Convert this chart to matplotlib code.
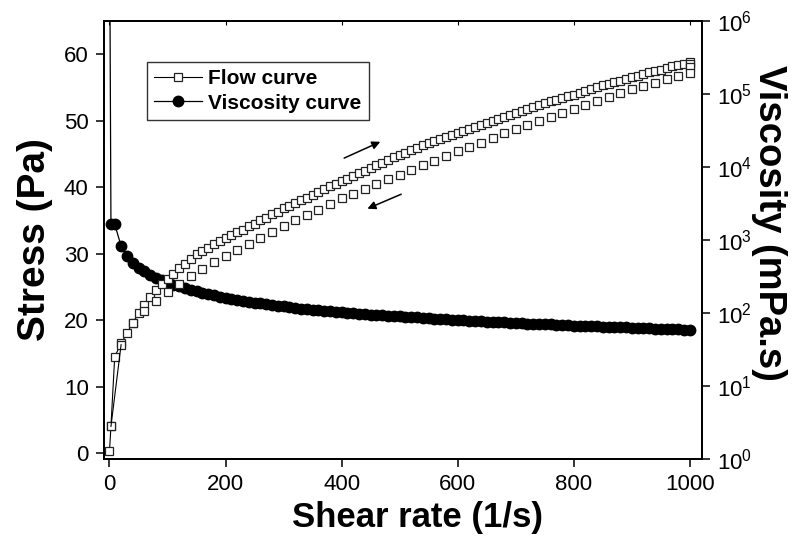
import matplotlib
matplotlib.use("Agg")
from matplotlib import pyplot as plt
from matplotlib.ticker import LogLocator, NullLocator

plt.rcParams['font.family'] = ['Liberation Sans', 'DejaVu Sans']
plt.rcParams['mathtext.default'] = 'regular'

# dữ liệu: nhánh tăng tốc độ cắt (flow curve, đi lên)
rate_up = [0, 2.5, 9, 20, 30, 40, 50, 60, 70, 80, 90, 100,
           110, 120, 130, 140, 150, 160, 170, 180, 190, 200,
           210, 220, 230, 240, 250, 260, 270, 280, 290, 300,
           310, 320, 330, 340, 350, 360, 370, 380, 390, 400,
           410, 420, 430, 440, 450, 460, 470, 480, 490, 500,
           510, 520, 530, 540, 550, 560, 570, 580, 590, 600,
           610, 620, 630, 640, 650, 660, 670, 680, 690, 700,
           710, 720, 730, 740, 750, 760, 770, 780, 790, 800,
           810, 820, 830, 840, 850, 860, 870, 880, 890, 900,
           910, 920, 930, 940, 950, 960, 970, 980, 990, 1000]
stress_up = [0.3, 4.0, 14.5, 16.5, 18.0, 19.6, 21.0, 22.3, 23.5, 24.5, 25.4, 26.2,
             27.0, 27.8, 28.5, 29.2, 29.9, 30.4, 30.9, 31.4, 31.9, 32.3,
             32.8, 33.2, 33.6, 34.1, 34.5, 35.0, 35.4, 35.9, 36.3, 36.8,
             37.2, 37.6, 38.0, 38.4, 38.8, 39.3, 39.7, 40.1, 40.5, 40.9,
             41.3, 41.7, 42.1, 42.5, 42.9, 43.3, 43.7, 44.1, 44.5, 44.9,
             45.2, 45.6, 45.9, 46.3, 46.6, 46.9, 47.2, 47.5, 47.8, 48.1,
             48.4, 48.7, 49.0, 49.3, 49.6, 49.9, 50.2, 50.5, 50.8, 51.1,
             51.4, 51.7, 52.0, 52.3, 52.6, 52.9, 53.1, 53.4, 53.7, 53.9,
             54.2, 54.5, 54.7, 55.0, 55.3, 55.5, 55.8, 56.0, 56.3, 56.5,
             56.8, 57.0, 57.3, 57.5, 57.7, 58.0, 58.2, 58.4, 58.6, 58.8]

# nhánh giảm tốc độ cắt (đi xuống)
rate_down = [1000, 1000, 1000, 980, 960, 940, 920, 900, 880, 860, 840, 820, 800,
             780, 760, 740, 720, 700, 680, 660, 640, 620, 600,
             580, 560, 540, 520, 500, 480, 460, 440, 420, 400,
             380, 360, 340, 320, 300, 280, 260, 240, 220, 200,
             180, 160, 140, 120, 100, 80, 60, 40, 20, 2.5]
stress_down = [58.5, 58.1, 57.2, 56.7, 56.2, 55.7, 55.2, 54.7, 54.1, 53.5, 52.9, 52.3, 51.7,
               51.1, 50.5, 49.9, 49.3, 48.7, 48.1, 47.4, 46.7, 46.1, 45.4,
               44.7, 44.0, 43.3, 42.6, 41.9, 41.2, 40.5, 39.7, 39.0, 38.3,
               37.5, 36.6, 35.8, 35.0, 34.2, 33.3, 32.4, 31.5, 30.6, 29.7,
               28.8, 27.7, 26.6, 25.5, 24.3, 22.9, 21.4, 19.6, 16.3, 4.0]

# độ nhớt (mPa.s), cùng các tốc độ cắt của nhánh đi lên
viscosity = [5e7, 1650, 1650, 825, 600, 490, 420, 372, 336, 306, 282, 262,
             245, 232, 219, 209, 199, 190, 182, 174, 168, 162,
             156, 151, 146, 142, 138, 135, 131, 128, 125, 123,
             120, 118, 115, 113, 111, 109, 107, 106, 104, 102,
             101, 99, 98, 97, 95, 94, 93, 92, 91, 90,
             89, 88, 87, 86, 85, 84, 83, 82, 81, 80,
             79.3, 78.5, 77.8, 77.0, 76.3, 75.6, 74.9, 74.3, 73.6, 73.0,
             72.4, 71.8, 71.2, 70.7, 70.1, 69.6, 69.0, 68.5, 68.0, 67.4,
             66.9, 66.5, 65.9, 65.5, 65.1, 64.5, 64.1, 63.6, 63.3, 62.8,
             62.4, 62.0, 61.6, 61.2, 60.7, 60.4, 60.0, 59.6, 59.2, 58.8]

fig = plt.figure(figsize=(7.98, 5.4), dpi=100)
ax = fig.add_axes([0.1303, 0.15, 0.7494, 0.8111])
ax2 = ax.twinx()
# đường ứng suất vẽ đè lên đường độ nhớt
ax.set_zorder(ax2.get_zorder() + 1)
ax.patch.set_visible(False)

visc_line, = ax2.plot(rate_up, viscosity, '-o', color='k', lw=0.9, ms=7.5,
                      label='Viscosity curve')
flow_line, = ax.plot(rate_up, stress_up, '-s', color='k', lw=0.8, ms=6,
                     mfc='white', mec='#222222', mew=0.9, label='Flow curve')
ax.plot(rate_down, stress_down, 's', ms=6, mfc='white', mec='#222222', mew=0.9)
ax.plot(rate_down[-2:], stress_down[-2:], '-', color='k', lw=0.8)

# mũi tên chỉ chiều tăng / giảm
ax.annotate('', xy=(471, 47.0), xytext=(400, 44.2),
            arrowprops=dict(arrowstyle='-|>', color='k', lw=1.1, mutation_scale=12))
ax.annotate('', xy=(440, 36.6), xytext=(507, 39.1),
            arrowprops=dict(arrowstyle='-|>', color='k', lw=1.1, mutation_scale=12))

ax.set_xlim(-9.5, 1021)
ax.set_ylim(-0.9, 65)
ax.set_xticks([0, 200, 400, 600, 800, 1000])
ax.set_yticks([0, 10, 20, 30, 40, 50, 60])
ax2.set_yscale('log')
ax2.set_ylim(1, 1e6)
ax2.yaxis.set_major_locator(LogLocator(base=10, numticks=10))
ax2.yaxis.set_minor_locator(NullLocator())

for a in (ax, ax2):
    a.tick_params(axis='both', direction='out', length=6, width=1.1,
                  labelsize=16, pad=5)
    for sp in a.spines.values():
        sp.set_linewidth(1.3)
    a.xaxis.get_offset_text().set_visible(False)
    a.yaxis.get_offset_text().set_visible(False)

# vạch nhỏ hướng vào trong ở trục trên
ax2.xaxis.set_visible(True)
ax2.tick_params(axis='x', bottom=False, top=True, direction='in', length=3,
                width=0.8, labelbottom=False, labeltop=False)
ax2.xaxis.label.set_visible(False)

ax.set_xlabel('Shear rate (1/s)', fontsize=25, fontweight='bold', labelpad=4)
ax.xaxis.label.set_x(0.525)
ax.set_ylabel('Stress (Pa)', fontsize=28, fontweight='bold', labelpad=8)
ax2.set_ylabel('Viscosity (mPa.s)', fontsize=27.5, fontweight='bold',
               rotation=270, labelpad=25)
ax2.yaxis.label.set_y(0.54)

leg = ax.legend(handles=[flow_line, visc_line], loc='upper left',
                bbox_to_anchor=(0.072, 0.906), borderaxespad=0,
                prop={'weight': 'bold', 'size': 15}, handlelength=2.3,
                handletextpad=0.3, labelspacing=0.25, borderpad=0.35,
                fancybox=False, framealpha=1, edgecolor='#333333')
leg.get_frame().set_linewidth(1.0)

fig.savefig('out.png', dpi=100)
